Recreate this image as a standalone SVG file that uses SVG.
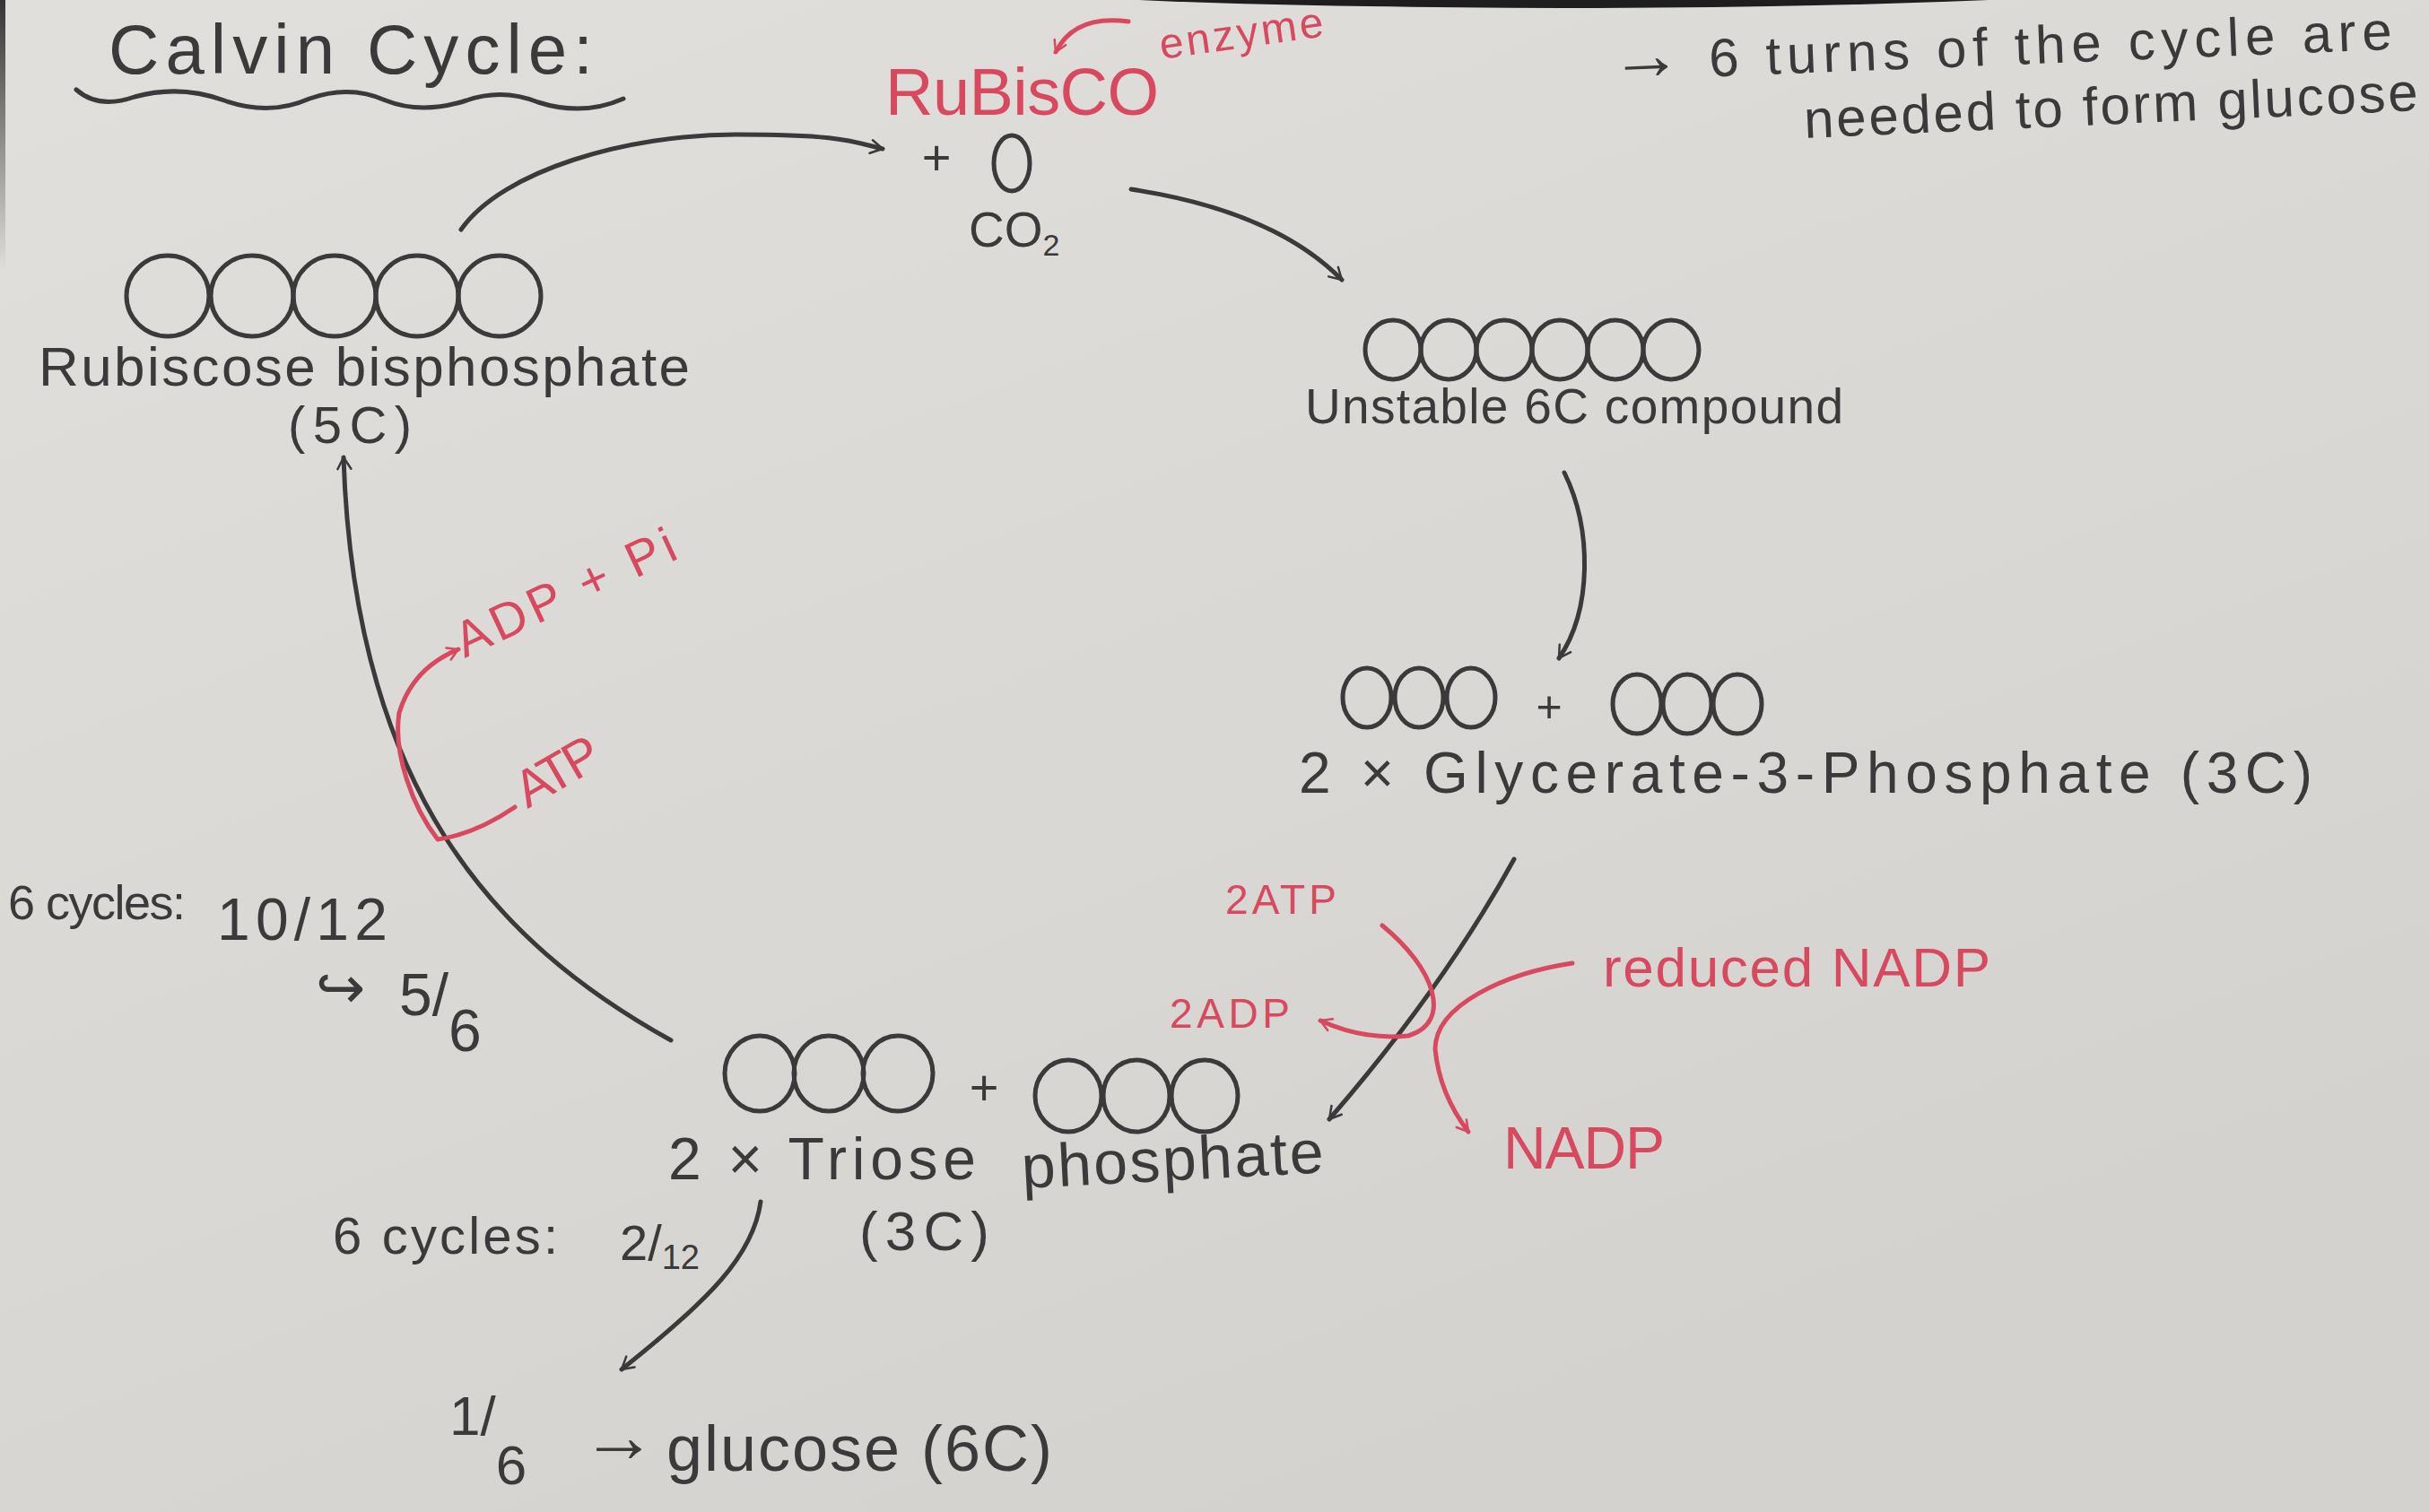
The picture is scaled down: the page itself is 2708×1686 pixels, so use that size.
<svg xmlns="http://www.w3.org/2000/svg" width="2708" height="1686" viewBox="0 0 2708 1686">
<defs>
<linearGradient id="paper" x1="0" y1="0" x2="0.6" y2="1">
<stop offset="0" stop-color="#e0dfdc"/>
<stop offset="0.5" stop-color="#dad9d6"/>
<stop offset="1" stop-color="#d3d2cf"/>
</linearGradient>
<linearGradient id="edge" x1="0" y1="0" x2="0" y2="1">
<stop offset="0" stop-color="#222" stop-opacity="0.9"/>
<stop offset="1" stop-color="#222" stop-opacity="0"/>
</linearGradient>
<marker id="ah" viewBox="0 0 20 20" refX="18" refY="10" markerWidth="10" markerHeight="10" markerUnits="userSpaceOnUse" orient="auto" overflow="visible">
<path d="M-26,-14 L0,0 L-26,16" transform="translate(18,10)" fill="none" stroke="#3b3939" stroke-width="5" stroke-linecap="round" stroke-linejoin="round"/>
</marker>
<marker id="ahr" viewBox="0 0 20 20" refX="18" refY="10" markerWidth="10" markerHeight="10" markerUnits="userSpaceOnUse" orient="auto" overflow="visible">
<path d="M-24,-13 L0,0 L-24,15" transform="translate(18,10)" fill="none" stroke="#d8485f" stroke-width="5" stroke-linecap="round" stroke-linejoin="round"/>
</marker>
</defs>
<style>
.ink{fill:none;stroke:#3b3939;stroke-width:5;stroke-linecap:round;stroke-linejoin:round}
.red{fill:none;stroke:#d8485f;stroke-width:5;stroke-linecap:round;stroke-linejoin:round}
.atom{fill:none;stroke:#3b3939;stroke-width:5}
.t{font-family:"Liberation Sans",Arial,sans-serif;fill:#3b3939}
.tr{font-family:"Liberation Sans",Arial,sans-serif;fill:#d8485f}
</style>
<rect x="0" y="0" width="2708" height="1686" fill="url(#paper)"/>
<rect x="0" y="0" width="6" height="300" fill="url(#edge)"/>
<path d="M1270,0 L2217,0 Q2000,9 1740,9 Q1450,8 1270,0 Z" fill="#1e1e1e"/>

<g id="title">
<text class="t" x="121" y="82" font-size="78" textLength="540">Calvin Cycle:</text>
<path class="ink" d="M85,100 Q110,122 150,108 Q200,94 250,112 Q300,130 345,110 Q390,94 430,112 Q470,128 520,112 Q560,98 600,114 Q650,130 695,110"/>
</g>

<g id="note-turns">
<text class="t" x="1796" y="90" font-size="60" textLength="872" transform="rotate(-2.3 1796 90)"><tspan font-size="80">→</tspan> 6 turns of the cycle are</text>
<text class="t" x="2012" y="154" font-size="60" textLength="685" transform="rotate(-2.6 2012 154)">needed to form glucose</text>
</g>

<g id="rubisco">
<text class="tr" x="987" y="128" font-size="74" textLength="305">RuBisCO</text>
<text class="tr" x="1295" y="66" font-size="48" textLength="184" transform="rotate(-8 1295 66)">enzyme</text>
</g>

<g id="co2">
<text class="t" x="1044" y="195" font-size="56" text-anchor="middle">+</text>
<ellipse class="atom" cx="1128" cy="182" rx="20" ry="31"/>
<text class="t" x="1080" y="275" font-size="55">CO<tspan font-size="34" dy="10">2</tspan></text>
</g>

<g id="rubp">
<ellipse class="atom" cx="187" cy="330" rx="46" ry="45"/>
<ellipse class="atom" cx="281" cy="330" rx="46" ry="45"/>
<ellipse class="atom" cx="373" cy="330" rx="46" ry="45"/>
<ellipse class="atom" cx="465" cy="330" rx="46" ry="45"/>
<ellipse class="atom" cx="557" cy="330" rx="46" ry="45"/>
<text class="t" x="43" y="430" font-size="62" textLength="726">Rubiscose bisphosphate</text>
<text class="t" x="321" y="494" font-size="58" textLength="138">(5C)</text>
</g>

<g id="unstable-6c">
<ellipse class="atom" cx="1553" cy="390" rx="31" ry="33"/>
<ellipse class="atom" cx="1615" cy="390" rx="31" ry="33"/>
<ellipse class="atom" cx="1677" cy="390" rx="31" ry="33"/>
<ellipse class="atom" cx="1739" cy="390" rx="31" ry="33"/>
<ellipse class="atom" cx="1801" cy="390" rx="31" ry="33"/>
<ellipse class="atom" cx="1863" cy="390" rx="31" ry="33"/>
<text class="t" x="1455" y="472" font-size="55" textLength="600">Unstable 6C compound</text>
</g>

<g id="g3p">
<ellipse class="atom" cx="1524" cy="778" rx="27" ry="33"/>
<ellipse class="atom" cx="1582" cy="778" rx="27" ry="33"/>
<ellipse class="atom" cx="1640" cy="778" rx="27" ry="33"/>
<text class="t" x="1727" y="805" font-size="50" text-anchor="middle">+</text>
<ellipse class="atom" cx="1825" cy="785" rx="27" ry="33"/>
<ellipse class="atom" cx="1881" cy="785" rx="27" ry="33"/>
<ellipse class="atom" cx="1937" cy="785" rx="27" ry="33"/>
<text class="t" x="1448" y="884" font-size="64" textLength="1130">2 × Glycerate-3-Phosphate (3C)</text>
</g>

<g id="triose">
<ellipse class="atom" cx="847" cy="1197" rx="39" ry="42"/>
<ellipse class="atom" cx="924" cy="1197" rx="39" ry="42"/>
<ellipse class="atom" cx="1001" cy="1197" rx="39" ry="42"/>
<text class="t" x="1097" y="1232" font-size="56" text-anchor="middle">+</text>
<ellipse class="atom" cx="1191" cy="1222" rx="37" ry="40"/>
<ellipse class="atom" cx="1267" cy="1222" rx="37" ry="40"/>
<ellipse class="atom" cx="1343" cy="1222" rx="37" ry="40"/>
<text class="t" x="745" y="1315" font-size="66" textLength="343">2 × Triose</text>
<text class="t" x="1140" y="1325" font-size="68" textLength="337" transform="rotate(-3 1140 1325)">phosphate</text>
<text class="t" x="958" y="1394" font-size="62" textLength="145">(3C)</text>
</g>

<g id="glucose">
<text class="t" x="501" y="1600" font-size="62">1<tspan>/</tspan><tspan dy="55">6</tspan></text>
<text class="t" x="648" y="1630" font-size="84">→</text>
<text class="t" x="743" y="1640" font-size="72" textLength="430">glucose (6C)</text>
</g>

<g id="note-regen">
<text class="t" x="9" y="1025" font-size="54" textLength="198">6 cycles:</text>
<text class="t" x="242" y="1048" font-size="66" textLength="190">10/12</text>
<text class="t" x="352" y="1124" font-size="66">↪</text>
<text class="t" x="445" y="1132" font-size="66">5<tspan>/</tspan><tspan dy="40">6</tspan></text>
</g>

<g id="note-export">
<text class="t" x="371" y="1398" font-size="58" textLength="251">6 cycles:</text>
<text class="t" x="691" y="1405" font-size="56">2/<tspan font-size="38" dy="10">12</tspan></text>
</g>

<g id="red-labels">
<text class="tr" x="518" y="734" font-size="56" textLength="265" transform="rotate(-25 518 734)">ADP + Pi</text>
<text class="tr" x="588" y="902" font-size="58" textLength="100" transform="rotate(-30 588 902)">ATP</text>
<text class="tr" x="1366" y="1019" font-size="46" textLength="124">2ATP</text>
<text class="tr" x="1304" y="1146" font-size="46" textLength="134">2ADP</text>
<text class="tr" x="1787" y="1100" font-size="62" textLength="432">reduced NADP</text>
<text class="tr" x="1676" y="1303" font-size="66" textLength="180">NADP</text>
</g>

<g id="connectors">
<path class="ink" marker-end="url(#ah)" d="M514,256 C560,190 700,150 820,150 S950,158 984,166"/>
<path class="ink" marker-end="url(#ah)" d="M1261,211 Q1420,235 1496,312"/>
<path class="ink" marker-end="url(#ah)" d="M1744,527 C1775,590 1775,680 1738,734"/>
<path class="ink" marker-end="url(#ah)" d="M1688,958 Q1610,1100 1482,1248"/>
<path class="ink" marker-end="url(#ah)" d="M748,1160 C550,1050 395,880 383,510"/>
<path class="ink" marker-end="url(#ah)" d="M848,1340 C840,1400 790,1450 693,1527"/>
<path class="red" marker-end="url(#ahr)" d="M1258,24 Q1198,16 1177,58"/>
<path class="red" marker-end="url(#ahr)" d="M574,900 Q530,930 488,936 C460,900 438,840 445,795 Q460,745 511,724"/>
<path class="red" marker-end="url(#ahr)" d="M1541,1032 C1600,1080 1620,1140 1570,1155 Q1520,1160 1472,1138"/>
<path class="red" marker-end="url(#ahr)" d="M1753,1074 C1680,1085 1600,1120 1600,1170 Q1605,1220 1637,1262"/>
</g>
</svg>
